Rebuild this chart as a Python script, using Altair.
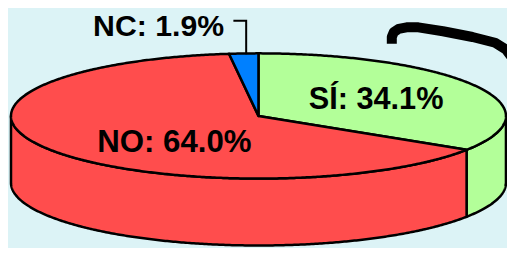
import numpy as np
import altair as alt

# ---- data ----
labels = ["SÍ", "NO", "NC"]
values = [34.1, 64.0, 1.9]
colors = ["#B3FF99", "#FF4D4D", "#0080FF"]
label_text = ["SÍ: 34.1%", "NO: 64.0%", "NC: 1.9%"]

# ---- layout (in the pixel space of the 515x256 reference picture) ----
CX, CY, RX, RY, DEPTH = 262.5, 120.0, 251.5, 65.0, 69.5
label_xy = {"SÍ": (382, 113), "NO": (177, 157), "NC": (161, 36.5)}
label_size = {"SÍ": 31.5, "NO": 32, "NC": 31}
nc_leader = [(237, 21), (250, 21), (250, 56)]
hook_path = [(398, 45), (398, 38), (400, 33), (405, 29.5), (413, 28),
             (425, 28), (450, 32), (480, 38), (503, 44), (514, 51), (522, 62)]

# the page adds an 8px margin: map reference pixels into the 499x240 chart area
KX, KY = 0.984, 0.963


def px(x, y):
    return [float(11 + (x - 11) * KX - 8), float(11 + (y - 11) * KY - 8)]


def rim(theta_deg, dy=0.0):
    t = np.radians(theta_deg)
    return px(CX + RX * np.sin(t), CY - RY * np.cos(t) + dy)


def arc(a0, a1, dy=0.0):
    n = max(2, int(abs(a1 - a0) * 2) + 2)
    return [rim(a, dy) for a in np.linspace(a0, a1, n)]


tops, sides = [], []
start = 0.0
center = px(CX, CY)
for lab, val, col in zip(labels, values, colors):
    end = start + val * 3.6
    ring = [center] + arc(start, end) + [center]
    tops.append({"type": "Feature", "properties": {"color": col, "name": lab},
                 "geometry": {"type": "Polygon", "coordinates": [ring]}})
    s0, s1 = max(start, 90.0), min(end, 270.0)
    if s1 > s0:
        up = arc(s0, s1)
        down = arc(s1, s0, DEPTH)
        ring = up + down + [up[0]]
        sides.append({"type": "Feature", "properties": {"color": col, "name": lab},
                      "geometry": {"type": "Polygon", "coordinates": [ring]}})
    start = end

lines = [
    {"type": "Feature", "properties": {"w": 2},
     "geometry": {"type": "LineString", "coordinates": [px(*p) for p in nc_leader]}},
]
hook = [
    {"type": "Feature", "properties": {"w": 10},
     "geometry": {"type": "LineString", "coordinates": [px(*p) for p in hook_path]}},
]

text_rows = []
for l, t in zip(labels, label_text):
    X, Y = px(*label_xy[l])
    text_rows.append({"t": t, "lon": X, "lat": Y, "s": label_size[l] * 0.975})

proj = dict(type="identity", scale=1, translate=[0, 0])

side_layer = alt.Chart(alt.InlineData(values=sides)).mark_geoshape(
    stroke="black", strokeWidth=2.5, strokeJoin="round"
).encode(fill=alt.Fill("properties.color:N", scale=None)).project(**proj)

top_layer = alt.Chart(alt.InlineData(values=tops)).mark_geoshape(
    stroke="black", strokeWidth=2.5, strokeJoin="round"
).encode(fill=alt.Fill("properties.color:N", scale=None)).project(**proj)

line_layer = alt.Chart(alt.InlineData(values=lines)).mark_geoshape(
    filled=False, stroke="black", strokeWidth=2
).encode(strokeWidth=alt.value(2)).project(**proj)

hook_layer = alt.Chart(alt.InlineData(values=hook)).mark_geoshape(
    filled=False, stroke="black", strokeWidth=10, strokeCap="butt", strokeJoin="round"
).encode(strokeWidth=alt.value(10)).project(**proj)

text_layer = alt.Chart(alt.InlineData(values=text_rows)).mark_text(
    font="Liberation Sans", fontWeight="bold", color="black",
    align="center", baseline="alphabetic"
).encode(
    longitude="lon:Q", latitude="lat:Q", text="t:N",
    size=alt.Size("s:Q", scale=None, legend=None),
).project(**proj)

chart = alt.layer(side_layer, top_layer, line_layer, hook_layer, text_layer).properties(
    width=499, height=240, background="#DCF3F6", padding=0,
    autosize=alt.AutoSizeParams(type="none"),
).configure_view(stroke=None)

chart.save("out.html", embed_options={"renderer": "svg", "actions": False})
